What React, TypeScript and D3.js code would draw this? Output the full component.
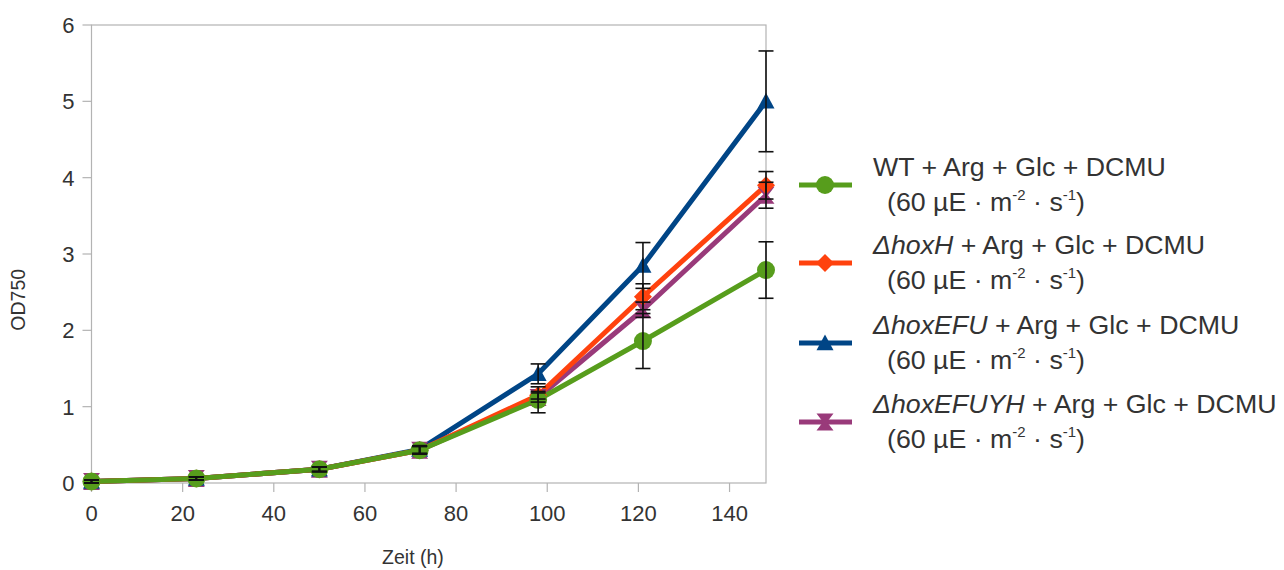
import React from "react";
import * as d3 from "d3";

const times = [0, 23, 50, 72, 98, 121, 148];
const wtValues = [0.02, 0.06, 0.18, 0.43, 1.09, 1.86, 2.79];
const wtErrors = [0.02, 0.02, 0.03, 0.05, 0.17, 0.36, 0.37];
const hoxHValues = [0.02, 0.06, 0.18, 0.43, 1.15, 2.44, 3.9];
const hoxHErrors = [0.02, 0.02, 0.03, 0.05, 0.05, 0.17, 0.18];
const hoxEFUValues = [0.02, 0.06, 0.18, 0.44, 1.43, 2.85, 5.0];
const hoxEFUErrors = [0.02, 0.02, 0.03, 0.05, 0.13, 0.3, 0.66];
const hoxEFUYHValues = [0.02, 0.06, 0.18, 0.43, 1.12, 2.27, 3.77];
const hoxEFUYHErrors = [0.02, 0.02, 0.03, 0.05, 0.06, 0.1, 0.17];
const xTicks = [0, 20, 40, 60, 80, 100, 120, 140];
const yTicks = [0, 1, 2, 3, 4, 5, 6];

type Shape = "circle" | "diamond" | "triangle" | "hourglass";
interface Series {
  key: string;
  italic: string;
  rest: string;
  values: number[];
  errors: number[];
  color: string;
  shape: Shape;
}

const series: Series[] = [
  { key: "wt", italic: "", rest: "WT + Arg + Glc + DCMU", values: wtValues, errors: wtErrors, color: "#579d1c", shape: "circle" },
  { key: "hoxH", italic: "ΔhoxH", rest: " + Arg + Glc + DCMU", values: hoxHValues, errors: hoxHErrors, color: "#ff420e", shape: "diamond" },
  { key: "hoxEFU", italic: "ΔhoxEFU", rest: " + Arg + Glc + DCMU", values: hoxEFUValues, errors: hoxEFUErrors, color: "#004586", shape: "triangle" },
  { key: "hoxEFUYH", italic: "ΔhoxEFUYH", rest: " + Arg + Glc + DCMU", values: hoxEFUYHValues, errors: hoxEFUYHErrors, color: "#993a7a", shape: "hourglass" },
];

const drawOrder = ["hoxEFUYH", "hoxEFU", "hoxH", "wt"];

const W = 1284;
const H = 570;
const plot = { left: 91.5, right: 766, top: 25, bottom: 483 };
const FONT = "'Liberation Sans', Arial, sans-serif";

function markerPath(shape: Shape, cx: number, cy: number, s: number): string {
  switch (shape) {
    case "circle":
      return "";
    case "diamond":
      return `M${cx},${cy - s}L${cx + s},${cy}L${cx},${cy + s}L${cx - s},${cy}Z`;
    case "triangle":
      return `M${cx},${cy - s}L${cx + s},${cy + s * 0.85}L${cx - s},${cy + s * 0.85}Z`;
    case "hourglass":
      return `M${cx - s},${cy - s}L${cx + s},${cy - s}L${cx + 2},${cy}L${cx + s},${cy + s}L${cx - s},${cy + s}L${cx - 2},${cy}Z`;
  }
}

function Marker({ shape, cx, cy, color }: { shape: Shape; cx: number; cy: number; color: string }) {
  if (shape === "circle") return <circle cx={cx} cy={cy} r={9} fill={color} />;
  const s = shape === "diamond" ? 9 : 8.5;
  return <path d={markerPath(shape, cx, cy, s)} fill={color} />;
}

export default function App() {
  const x = d3.scaleLinear().domain([0, 148]).range([plot.left, plot.right]);
  const y = d3.scaleLinear().domain([0, 6]).range([plot.bottom, plot.top]);
  const line = d3
    .line<number>()
    .x((_, i) => x(times[i]))
    .y((d) => y(d));

  const ordered = drawOrder.map((k) => series.find((s) => s.key === k)!);

  const legendRows = [185, 263, 343, 422];

  return (
    <svg
      width={W}
      height={H}
      style={{ position: "absolute", left: 0, top: 0, background: "#fff" }}
      fontFamily={FONT}
    >
      <rect x={0} y={0} width={W} height={H} fill="#fff" />
      {/* frame */}
      <rect
        x={plot.left}
        y={plot.top}
        width={plot.right - plot.left}
        height={plot.bottom - plot.top}
        fill="none"
        stroke="#b3b3b3"
        strokeWidth={1.2}
      />
      {/* y ticks */}
      {yTicks.map((t) => (
        <g key={"y" + t}>
          <line x1={plot.left - 9} x2={plot.left} y1={y(t)} y2={y(t)} stroke="#b3b3b3" strokeWidth={1.2} />
          <text x={plot.left - 17} y={y(t)} dy="0.36em" textAnchor="end" fontSize={22} fill="#333">
            {t}
          </text>
        </g>
      ))}
      {/* x ticks */}
      {xTicks.map((t) => (
        <g key={"x" + t}>
          <line x1={x(t)} x2={x(t)} y1={plot.bottom} y2={plot.bottom + 9} stroke="#b3b3b3" strokeWidth={1.2} />
          <text x={x(t)} y={plot.bottom + 38} textAnchor="middle" fontSize={22} fill="#333">
            {t}
          </text>
        </g>
      ))}
      {/* axis titles */}
      <text x={413} y={564} textAnchor="middle" fontSize={19.5} fill="#333">
        Zeit (h)
      </text>
      <text
        transform={`translate(25,${y(2.4)}) rotate(-90)`}
        textAnchor="middle"
        fontSize={19.5}
        fill="#333"
      >
        OD750
      </text>
      {/* lines */}
      {ordered.map((s) => (
        <path
          key={"l" + s.key}
          d={line(s.values) || ""}
          fill="none"
          stroke={s.color}
          strokeWidth={5}
          strokeLinejoin="round"
        />
      ))}
      {/* markers */}
      {ordered.map((s) => (
        <g key={"m" + s.key}>
          {s.values.map((v, i) => (
            <Marker key={i} shape={s.shape} cx={x(times[i])} cy={y(v)} color={s.color} />
          ))}
        </g>
      ))}
      {/* error bars */}
      {ordered.map((s) => (
        <g key={"e" + s.key} stroke="#111" strokeWidth={1.6}>
          {s.values.map((v, i) => {
            const cx = x(times[i]);
            const y1 = y(v + s.errors[i]);
            const y2 = y(v - s.errors[i]);
            return (
              <g key={i}>
                <line x1={cx} x2={cx} y1={y1} y2={y2} />
                <line x1={cx - 7.5} x2={cx + 7.5} y1={y1} y2={y1} />
                <line x1={cx - 7.5} x2={cx + 7.5} y1={y2} y2={y2} />
              </g>
            );
          })}
        </g>
      ))}
      {/* legend */}
      {series.map((s, i) => {
        const cy = legendRows[i];
        return (
          <g key={"lg" + s.key}>
            <line x1={799} x2={852} y1={cy} y2={cy} stroke={s.color} strokeWidth={5} />
            <Marker shape={s.shape} cx={825} cy={cy} color={s.color} />
            <g transform={`translate(873,${cy - 9}) scale(1.07,1)`}>
              <text x={0} y={0} fontSize={25} fill="#333">
                {s.italic && <tspan fontStyle="italic">{s.italic}</tspan>}
                <tspan>{s.rest}</tspan>
              </text>
            </g>
            <g transform={`translate(887,${cy + 26}) scale(1.07,1)`}>
              <text x={0} y={0} fontSize={25} fill="#333">
                <tspan>(60 µE · m</tspan>
                <tspan fontSize={14} dy={-11}>-2</tspan>
                <tspan dy={11}> · s</tspan>
                <tspan fontSize={14} dy={-11}>-1</tspan>
                <tspan dy={11}>)</tspan>
              </text>
            </g>
          </g>
        );
      })}
    </svg>
  );
}
